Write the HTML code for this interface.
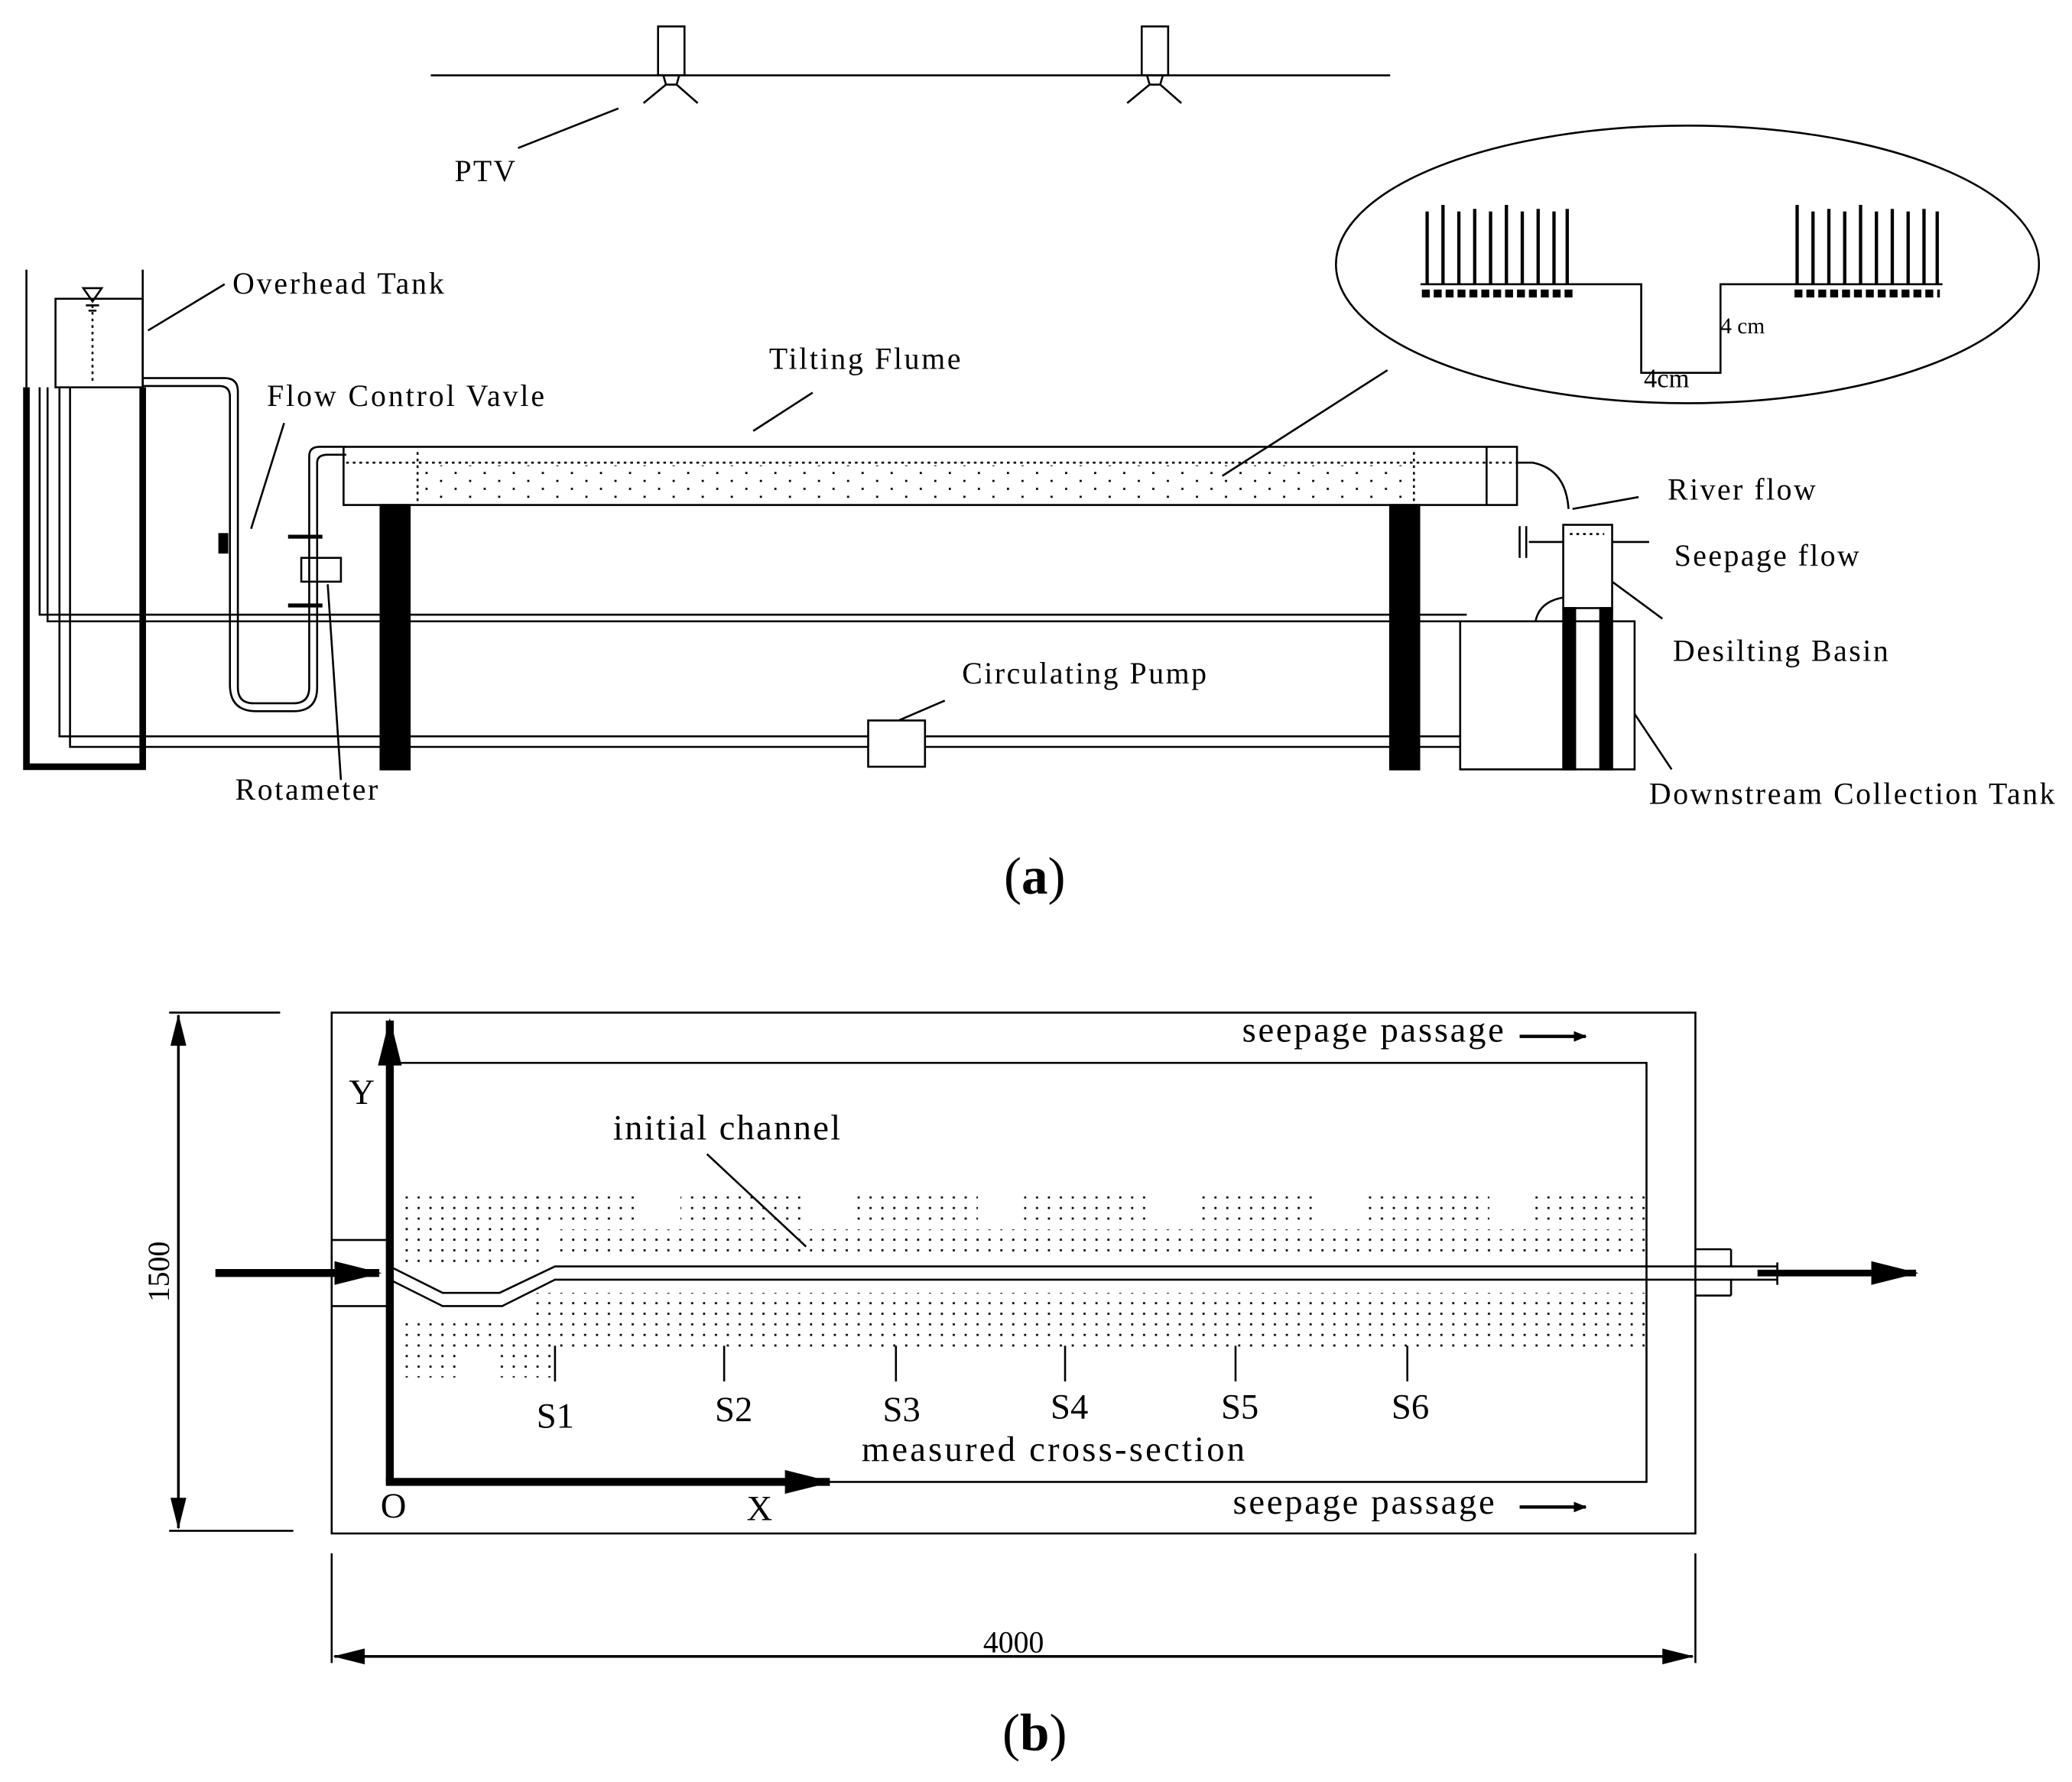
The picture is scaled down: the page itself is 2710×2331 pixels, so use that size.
<!DOCTYPE html>
<html><head><meta charset="utf-8"><style>
html,body{margin:0;padding:0;background:#fff}
svg{display:block}
text{font-family:"Liberation Serif",serif;fill:#000}
</style></head><body>
<svg width="2710" height="2331" viewBox="0 0 1568 1348" preserveAspectRatio="none" xmlns="http://www.w3.org/2000/svg">
<defs>
<pattern id="dots" width="9" height="8" patternUnits="userSpaceOnUse"><rect x="1" y="1" width="1.6" height="1.6" fill="#000"/></pattern>
<pattern id="dots2" width="22" height="12" patternUnits="userSpaceOnUse"><rect x="3" y="3" width="1.6" height="1.6" fill="#000"/><rect x="14" y="9" width="1.6" height="1.6" fill="#000"/></pattern>
<marker id="ah" markerWidth="10" markerHeight="8" refX="9" refY="4" orient="auto" markerUnits="userSpaceOnUse"><path d="M0,0 L10,4 L0,8 z" fill="#000"/></marker>
<marker id="ahb" markerWidth="36" markerHeight="18" refX="34" refY="9" orient="auto" markerUnits="userSpaceOnUse"><path d="M0,0 L36,9 L0,18 z" fill="#000"/></marker>
<marker id="ahs" markerWidth="24" markerHeight="12" refX="23" refY="6" orient="auto" markerUnits="userSpaceOnUse"><path d="M0,0 L24,6 L0,12 z" fill="#000"/></marker>
</defs>
<g fill="none" stroke="#000" stroke-width="1.5">
<line x1="326" y1="57" x2="1052" y2="57"/>
<rect x="498" y="20" width="20" height="37"/><path d="M502,57 L504,64 L512,64 L514,57 M504,64 L487,78 M512,64 L528,78"/>
<rect x="864" y="20" width="20" height="37"/><path d="M868,57 L870,64 L878,64 L880,57 M870,64 L853,78 M878,64 L894,78"/>
<line x1="392" y1="112" x2="468" y2="82"/>
<line x1="20" y1="204" x2="20" y2="293"/><line x1="108" y1="204" x2="108" y2="293"/>
<rect x="42" y="226" width="66" height="67"/>
<path d="M70,226 V290" stroke-dasharray="2 3"/>
<path d="M63,218 L77,218 L70,228 Z M65,231 H75 M67,235 H73"/>
<path d="M20,293 V580 H108 V293" stroke-width="5"/>
<line x1="112" y1="250" x2="170" y2="215"/>
<path d="M30,293 V465 H1110"/><path d="M36,293 V470 H1110"/>
<path d="M45,293 V557 H1105"/><path d="M53,293 V565 H1105"/>
<path d="M108,286 H170 Q180,286 180,296 V520 Q180,532 192,532 H222 Q234,532 234,520 V345 Q234,338 242,338 H262"/>
<path d="M108,292 H166 Q174,292 174,300 V518 Q174,538 194,538 H222 Q240,538 240,520 V350 Q240,344 248,344 H262"/>
<line x1="190" y1="400" x2="215" y2="320"/>
<rect x="166" y="404" width="6" height="14" fill="#000"/>
<line x1="218" y1="406" x2="244" y2="406" stroke-width="3"/>
<line x1="218" y1="458" x2="244" y2="458" stroke-width="3"/>
<rect x="228" y="422" width="30" height="18"/>
<line x1="248" y1="442" x2="258" y2="590"/>
<rect x="260" y="338" width="888" height="44"/>
<line x1="1125" y1="338" x2="1125" y2="382"/>
<path d="M316,342 V382 M1070,342 V382 M262,350 H1148" stroke-dasharray="2 3"/>
<rect x="320" y="352" width="745" height="28" fill="url(#dots2)" stroke="none"/>
<rect x="288" y="382" width="22" height="200" fill="#000"/>
<rect x="1052" y="382" width="22" height="200" fill="#000"/>
<line x1="570" y1="326" x2="615" y2="297"/>
<line x1="925" y1="360" x2="1050" y2="280"/>
<rect x="657" y="545" width="43" height="35" fill="#fff"/>
<line x1="680" y1="545" x2="715" y2="530"/>
<path d="M1148,350 H1160 Q1185,355 1187,385"/>
<path d="M1190,385 L1240,376"/>
<path d="M1150,398 V422 M1155,398 V422 M1157,410 H1248"/>
<rect x="1105" y="470" width="132" height="112"/>
<rect x="1183" y="397" width="37" height="63" fill="#fff"/>
<path d="M1188,404 H1214" stroke-dasharray="2 3"/>
<rect x="1183" y="460" width="9" height="122" fill="#000"/>
<rect x="1211" y="460" width="9" height="122" fill="#000"/>
<path d="M1162,470 Q1165,455 1183,452"/>
<line x1="1220" y1="440" x2="1258" y2="468"/>
<line x1="1237" y1="540" x2="1265" y2="582"/>
<ellipse cx="1277" cy="200" rx="266" ry="105"/>
<path d="M1075,215 H1242 V282 H1302 V215 H1470"/>
</g>
<g stroke="#000" stroke-width="2.5" fill="none">
<path d="M1080,215 V160 M1092,215 V155 M1104,215 V160 M1116,215 V158 M1128,215 V160 M1140,215 V155 M1152,215 V160 M1164,215 V158 M1176,215 V160 M1186,215 V158"/>
<path d="M1360,215 V155 M1372,215 V160 M1384,215 V158 M1396,215 V160 M1408,215 V155 M1420,215 V160 M1432,215 V158 M1444,215 V160 M1456,215 V158 M1466,215 V160"/>
<path d="M1076,222 H1190 M1358,222 H1468" stroke-width="6" stroke-dasharray="6 3"/>
</g>
<g font-size="23">
<text x="344" y="137" textLength="46">PTV</text>
<text x="176" y="222" textLength="160">Overhead Tank</text>
<text x="202" y="307" textLength="210">Flow Control Vavle</text>
<text x="582" y="279" textLength="145">Tilting Flume</text>
<text x="178" y="605" textLength="108">Rotameter</text>
<text x="728" y="517" textLength="185">Circulating Pump</text>
<text x="1262" y="378" textLength="112">River flow</text>
<text x="1267" y="428" textLength="140">Seepage flow</text>
<text x="1266" y="500" textLength="163">Desilting Basin</text>
<text x="1248" y="608" textLength="307">Downstream Collection Tank</text>
<text x="1302" y="252" font-size="17">4 cm</text>
<text x="1244" y="293" font-size="20">4cm</text>
</g>
<text x="783" y="676" font-size="40" text-anchor="middle">(<tspan font-weight="bold">a</tspan>)</text>
<g fill="none" stroke="#000" stroke-width="1.5">
<rect x="251" y="766" width="1032" height="394"/>
<rect x="295" y="804" width="951" height="317"/>
<rect x="251" y="938" width="44" height="50" fill="#fff"/>
<path d="M295,958 L335,978 H378 L420,958 H1246"/>
<path d="M295,968 L335,988 H380 L420,968 H1246"/>
<path d="M1246,958 H1310 V945 M1246,968 H1310 V980 M1283,945 H1310 M1283,980 H1310"/>
<path d="M1310,958 H1345 V968 H1310 M1345,955 V972"/>
<line x1="535" y1="873" x2="610" y2="943"/>
<line x1="420" y1="1018" x2="420" y2="1045"/><line x1="548" y1="1018" x2="548" y2="1045"/>
<line x1="678" y1="1018" x2="678" y2="1045"/><line x1="806" y1="1018" x2="806" y2="1045"/>
<line x1="935" y1="1018" x2="935" y2="1045"/><line x1="1065" y1="1018" x2="1065" y2="1045"/>
<path d="M128,766 H212 M128,1158 H222"/>
<line x1="135" y1="960" x2="135" y2="768" marker-end="url(#ahs)" stroke-width="2"/>
<line x1="135" y1="960" x2="135" y2="1156" marker-end="url(#ahs)" stroke-width="2"/>
<path d="M251,1175 V1258 M1283,1175 V1258"/>
<line x1="767" y1="1253" x2="253" y2="1253" marker-end="url(#ahs)" stroke-width="2"/>
<line x1="767" y1="1253" x2="1281" y2="1253" marker-end="url(#ahs)" stroke-width="2"/>
<line x1="1150" y1="784" x2="1200" y2="784" marker-end="url(#ah)" stroke-width="2.5"/>
<line x1="1150" y1="1140" x2="1200" y2="1140" marker-end="url(#ah)" stroke-width="2.5"/>
</g>
<g fill="url(#dots)">
<rect x="300" y="905" width="110" height="50"/><rect x="400" y="905" width="80" height="20"/>
<rect x="515" y="905" width="95" height="20"/><rect x="645" y="905" width="95" height="20"/>
<rect x="775" y="905" width="95" height="20"/><rect x="903" y="905" width="95" height="20"/>
<rect x="1032" y="905" width="95" height="20"/><rect x="1160" y="905" width="85" height="20"/>
<rect x="420" y="930" width="825" height="20"/>
<rect x="400" y="978" width="845" height="20"/>
<rect x="300" y="1000" width="945" height="20"/>
<rect x="300" y="1020" width="50" height="22"/><rect x="378" y="1020" width="40" height="22"/>
</g>
<line x1="295" y1="1121" x2="295" y2="772" stroke="#000" stroke-width="6" marker-end="url(#ahb)"/>
<line x1="292" y1="1121" x2="628" y2="1121" stroke="#000" stroke-width="6" marker-end="url(#ahb)"/>
<line x1="163" y1="963" x2="287" y2="963" stroke="#000" stroke-width="6" marker-end="url(#ahb)"/>
<line x1="1330" y1="963" x2="1450" y2="963" stroke="#000" stroke-width="5" marker-end="url(#ahb)"/>
<g font-size="27">
<text x="264" y="835">Y</text>
<text x="288" y="1148">O</text>
<text x="565" y="1150">X</text>
<text x="940" y="788" textLength="198">seepage passage</text>
<text x="933" y="1145" textLength="198">seepage passage</text>
<text x="464" y="862" textLength="172">initial channel</text>
<text x="406" y="1080">S1</text><text x="541" y="1075">S2</text><text x="668" y="1075">S3</text>
<text x="795" y="1073">S4</text><text x="924" y="1073">S5</text><text x="1053" y="1073">S6</text>
<text x="652" y="1105" textLength="290">measured cross-section</text>
<text x="767" y="1250" text-anchor="middle" font-size="23">4000</text>
<text transform="translate(128,962) rotate(-90)" text-anchor="middle" font-size="23">1500</text>
</g>
<text x="783" y="1324" font-size="40" text-anchor="middle">(<tspan font-weight="bold">b</tspan>)</text>
</svg>
</body></html>
